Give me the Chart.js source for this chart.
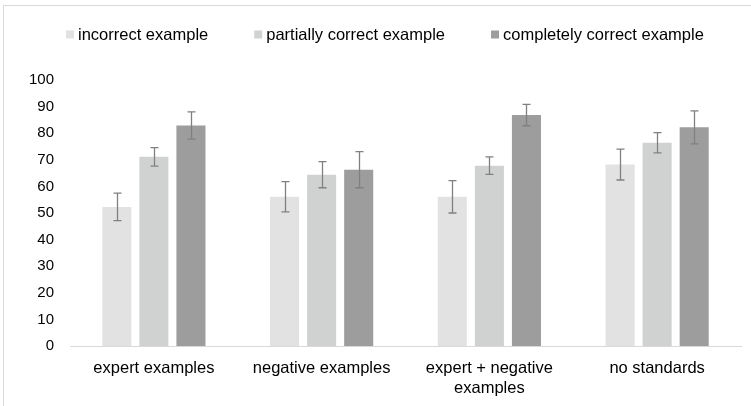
<!DOCTYPE html>
<html>
<head>
<meta charset="utf-8">
<script src="https://cdn.jsdelivr.net/npm/chart.js@4.4.1/dist/chart.umd.min.js"></script>
<style>
  html, body { margin: 0; padding: 0; background: #ffffff; }
  #wrap { position: relative; width: 751px; height: 406px; overflow: hidden; }
  #frame { position: absolute; left: 3px; top: 5px; width: 800px; height: 450px; border: 1px solid #d9d9d9; box-sizing: border-box; }
  #box { position: absolute; left: 0; top: 0; width: 751px; height: 406px; }
</style>
</head>
<body>
<div id="wrap">
  <div id="frame"></div>
  <div id="box"><canvas id="chart"></canvas></div>
</div>
<script>
// Condition groups along the x axis
const categories = [
  'expert examples',
  'negative examples',
  ['expert + negative', 'examples'],
  'no standards'
];

// Example types (one bar per type within each group)
const seriesNames = ['incorrect example', 'partially correct example', 'completely correct example'];

// Mean scores per group
const incorrectValues = [52.3, 56.1, 56.1, 68.2];
const partialValues   = [71.1, 64.4, 67.8, 76.4];
const completeValues  = [82.9, 66.3, 86.8, 82.2];

// Half-length of each error bar
const incorrectErrors = [5.2, 5.7, 6.1, 5.8];
const partialErrors   = [3.5, 4.9, 3.3, 3.8];
const completeErrors  = [5.1, 6.8, 4.0, 6.2];

const yTicks = { min: 0, max: 100, step: 10 };

const seriesColors = ['#e2e2e2', '#d0d2d1', '#9d9d9d'];
const seriesValues = [incorrectValues, partialValues, completeValues];
const seriesErrors = [incorrectErrors, partialErrors, completeErrors];

const FONT = '"Liberation Sans", Arial, sans-serif';

// Draws symmetric error bars over every bar
const errorBars = {
  id: 'errorBars',
  afterDatasetsDraw(chart) {
    const ctx = chart.ctx;
    const y = chart.scales.y;
    ctx.save();
    ctx.strokeStyle = '#808080';
    ctx.lineWidth = 1.3;
    chart.data.datasets.forEach((ds, di) => {
      const meta = chart.getDatasetMeta(di);
      meta.data.forEach((bar, i) => {
        const v = ds.data[i];
        const e = ds.errors[i];
        const x = Math.round(bar.x) + 0.5;
        const yTop = y.getPixelForValue(v + e);
        const yBot = y.getPixelForValue(v - e);
        const cap = 4;
        ctx.beginPath();
        ctx.moveTo(x, yTop); ctx.lineTo(x, yBot);
        ctx.moveTo(x - cap, yTop); ctx.lineTo(x + cap, yTop);
        ctx.moveTo(x - cap, yBot); ctx.lineTo(x + cap, yBot);
        ctx.stroke();
      });
    });
    ctx.restore();
  }
};

// Single-row legend: small square, short gap, label, wide gap to next entry
const rowLegend = {
  id: 'rowLegend',
  afterDraw(chart, args, opts) {
    const ctx = chart.ctx;
    ctx.save();
    ctx.font = opts.fontSize + 'px ' + FONT;
    ctx.textBaseline = 'middle';
    ctx.textAlign = 'left';
    let x = opts.x;
    chart.data.datasets.forEach(ds => {
      ctx.fillStyle = ds.backgroundColor;
      ctx.fillRect(x, opts.y - opts.box / 2, opts.box, opts.box);
      x += opts.box + opts.textGap;
      ctx.fillStyle = '#000000';
      ctx.fillText(ds.label, x, opts.y + 0.5);
      x += ctx.measureText(ds.label).width + opts.itemGap;
    });
    ctx.restore();
  }
};

new Chart(document.getElementById('chart'), {
  type: 'bar',
  data: {
    labels: categories,
    datasets: seriesNames.map((name, k) => ({
      label: name,
      data: seriesValues[k],
      errors: seriesErrors[k],
      backgroundColor: seriesColors[k],
      borderWidth: 0,
      barPercentage: 0.784,
      categoryPercentage: 0.663
    }))
  },
  plugins: [errorBars, rowLegend],
  options: {
    responsive: true,
    maintainAspectRatio: false,
    animation: false,
    layout: { padding: { left: 29, right: 10, top: 80, bottom: 9 } },
    plugins: {
      legend: { display: false },
      tooltip: { enabled: false },
      rowLegend: { x: 66, y: 34.5, box: 8, textGap: 4, itemGap: 46, fontSize: 16.5 }
    },
    scales: {
      x: {
        grid: { display: false, drawTicks: false },
        border: { display: true, color: '#d9d9d9', width: 1 },
        afterFit(scale) { scale.height = 51; },
        ticks: {
          color: '#000000',
          padding: 13,
          maxRotation: 0,
          autoSkip: false,
          font: { family: FONT, size: 16.5 }
        }
      },
      y: {
        min: yTicks.min,
        max: yTicks.max,
        grid: { display: false, drawTicks: false },
        border: { display: false },
        afterFit(scale) { scale.width = 41; },
        ticks: {
          stepSize: yTicks.step,
          autoSkip: false,
          color: '#000000',
          padding: 16,
          font: { family: FONT, size: 15 }
        }
      }
    }
  }
});
</script>
</body>
</html>
